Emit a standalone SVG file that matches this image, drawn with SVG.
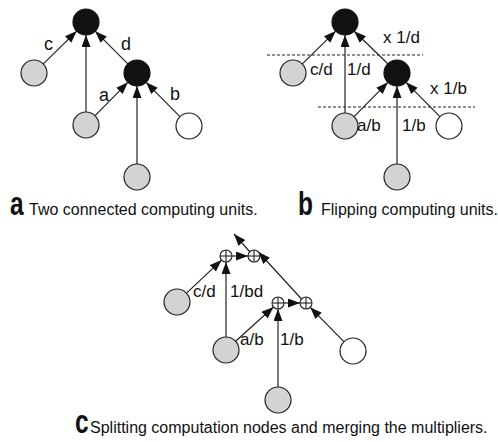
<svg xmlns="http://www.w3.org/2000/svg" width="498" height="442" viewBox="0 0 498 442">
<defs>
<marker id="ah" markerUnits="userSpaceOnUse" markerWidth="14" markerHeight="10" refX="12" refY="4.5" orient="auto">
<path d="M0,0 L12,4.5 L0,9 z" fill="#111"/>
</marker>
<style>
.e{stroke:#222;stroke-width:1.2;fill:none;marker-end:url(#ah)}
.blk{fill:#111;stroke:#111;stroke-width:1.2}
.gry{fill:#d3d3d3;stroke:#222;stroke-width:1.2}
.wht{fill:#fff;stroke:#222;stroke-width:1.2}
.op{fill:#fff;stroke:#222;stroke-width:1.1}
.op line{stroke:#222;stroke-width:1.1}
.dash{stroke:#222;stroke-width:1;stroke-dasharray:3,2}
text{font-family:"Liberation Sans",Arial,sans-serif;fill:#111}
.lb{font-size:17px}
.la{font-size:18px}
.cap{font-size:16px}
.big{font-size:34px;font-weight:bold}
</style>
</defs>
<rect width="498" height="442" fill="#fff"/>

<!-- Panel a -->
<g id="connectors-a">
<line class="e" x1="43.3" y1="63.9" x2="76.7" y2="31.1"/>
<line class="e" x1="86" y1="112" x2="86" y2="35"/>
<line class="e" x1="127.8" y1="63.8" x2="95.2" y2="31.2"/>
<line class="e" x1="95.1" y1="115.7" x2="127.9" y2="82.3"/>
<line class="e" x1="137" y1="164" x2="137" y2="86"/>
<line class="e" x1="179.9" y1="116.7" x2="146.1" y2="82.3"/>
</g>
<g id="a-top"><circle class="blk" cx="86" cy="22" r="13"/></g>
<g id="a-right"><circle class="blk" cx="137" cy="73" r="13"/></g>
<g id="a-c"><circle class="gry" cx="34" cy="73" r="13"/></g>
<g id="a-mid"><circle class="gry" cx="86" cy="125" r="13"/></g>
<g id="a-bot"><circle class="gry" cx="137" cy="177" r="13"/></g>
<g id="a-white"><circle class="wht" cx="189" cy="126" r="13"/></g>
<g id="a-labels">
<text class="la" x="44" y="50">c</text>
<text class="la" x="121" y="50">d</text>
<text class="la" x="99" y="101">a</text>
<text class="la" x="170" y="100">b</text>
</g>

<!-- Panel b -->
<g id="b-dashes">
<line class="dash" x1="267" y1="55" x2="423" y2="55"/>
<line class="dash" x1="318" y1="107" x2="475" y2="107"/>
</g>
<g id="connectors-b">
<line class="e" x1="302.3" y1="63.9" x2="335.7" y2="31.1"/>
<line class="e" x1="345" y1="113" x2="345" y2="35"/>
<line class="e" x1="387.8" y1="63.8" x2="354.2" y2="31.2"/>
<line class="e" x1="354.1" y1="116.7" x2="387.9" y2="82.3"/>
<line class="e" x1="397" y1="164" x2="397" y2="86"/>
<line class="e" x1="439.9" y1="116.7" x2="406.1" y2="82.3"/>
</g>
<g id="b-top"><circle class="blk" cx="345" cy="22" r="13"/></g>
<g id="b-right"><circle class="blk" cx="397" cy="73" r="13"/></g>
<g id="b-c"><circle class="gry" cx="293" cy="73" r="13"/></g>
<g id="b-mid"><circle class="gry" cx="345" cy="126" r="13"/></g>
<g id="b-bot"><circle class="gry" cx="397" cy="177" r="13"/></g>
<g id="b-white"><circle class="wht" cx="449" cy="126" r="13"/></g>
<g id="b-labels">
<text class="lb" x="383" y="43">x 1/d</text>
<text class="lb" x="430" y="94">x 1/b</text>
<text class="lb" x="310" y="75">c/d</text>
<text class="lb" x="347" y="75">1/d</text>
<text class="lb" x="357" y="131">a/b</text>
<text class="lb" x="402" y="131">1/b</text>
</g>

<!-- Panel c -->
<g id="connectors-c">
<line class="e" x1="186.5" y1="293.1" x2="221.6" y2="260.1"/>
<line class="e" x1="226" y1="337" x2="226" y2="262"/>
<line class="e" x1="235.6" y1="341.3" x2="273.5" y2="307"/>
<line class="e" x1="278" y1="387" x2="278" y2="309"/>
<line class="e" x1="232" y1="256" x2="248" y2="256"/>
<line class="e" x1="284" y1="303" x2="300" y2="303"/>
<line class="e" x1="301.5" y1="299" x2="258.5" y2="252"/>
<line class="e" x1="343.9" y1="341.7" x2="310.2" y2="307.3"/>
<line class="e" x1="250" y1="252" x2="234" y2="234"/>
</g>
<g id="c-op1" class="op"><circle cx="226" cy="256" r="6"/><line x1="220" y1="256" x2="232" y2="256"/><line x1="226" y1="250" x2="226" y2="262"/></g>
<g id="c-op2" class="op"><circle cx="254" cy="256" r="6"/><line x1="248" y1="256" x2="260" y2="256"/><line x1="254" y1="250" x2="254" y2="262"/></g>
<g id="c-op3" class="op"><circle cx="278" cy="303" r="6"/><line x1="272" y1="303" x2="284" y2="303"/><line x1="278" y1="297" x2="278" y2="309"/></g>
<g id="c-op4" class="op"><circle cx="306" cy="303" r="6"/><line x1="300" y1="303" x2="312" y2="303"/><line x1="306" y1="297" x2="306" y2="309"/></g>
<g id="c-c"><circle class="gry" cx="177" cy="302" r="13"/></g>
<g id="c-mid"><circle class="gry" cx="226" cy="350" r="13"/></g>
<g id="c-bot"><circle class="gry" cx="278" cy="400" r="13"/></g>
<g id="c-white"><circle class="wht" cx="353" cy="351" r="13"/></g>
<g id="c-labels">
<text class="lb" x="193" y="297">c/d</text>
<text class="lb" x="230" y="297">1/bd</text>
<text class="lb" x="240" y="345">a/b</text>
<text class="lb" x="280" y="345">1/b</text>
</g>

<!-- Captions -->
<g id="captions">
<text class="big" transform="translate(10,215) scale(0.72,1)">a</text>
<text class="cap" x="29" y="215">Two connected computing units.</text>
<text class="big" transform="translate(298,215) scale(0.72,1)">b</text>
<text class="cap" x="321" y="215">Flipping computing units.</text>
<text class="big" transform="translate(75,433) scale(0.72,1)">c</text>
<text class="cap" x="90" y="433">Splitting computation nodes and merging the multipliers.</text>
</g>
</svg>
